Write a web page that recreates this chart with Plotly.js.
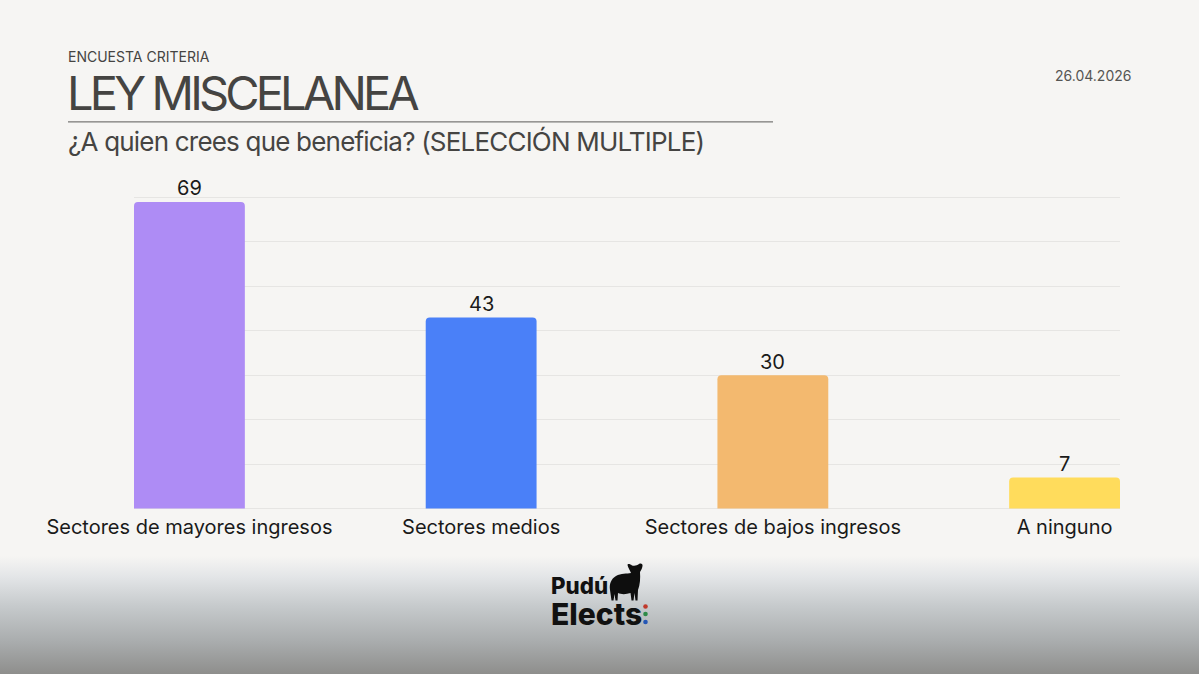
<!DOCTYPE html>
<html><head><meta charset="utf-8">
<script src="https://cdn.plot.ly/plotly-3.0.1.min.js"></script>
<style>
html,body{margin:0;padding:0;width:1199px;height:674px;overflow:hidden;
background:linear-gradient(to bottom,#f6f5f3 0,#f6f5f3 556px,#e4e6e8 576px,#c6cacc 606px,#a9acad 642px,#8e8e8c 674px);}
#c{position:absolute;left:0;top:0;width:1199px;height:674px;}
</style></head><body><div id="c"></div>
<script>
const categories = ["Sectores de mayores ingresos","Sectores medios","Sectores de bajos ingresos","A ninguno"];
const values = [69,43,30,7];
const barColors = ["#ae8cf5","#4a80f8","#f3b96f","#ffdc5c"];
const gridTicks = [0,10,20,30,40,50,60,70];
const W=1199,H=674;
const mL=134,mR=79,mT=192.6,mB=161.4;
const px=x=>(x-mL)/(W-mL-mR), py=y=>1-(y-mT)/(H-mT-mB);
function txt(text,x,y,size,color,anchor,spacing,weight){
  return {text,xref:'paper',yref:'paper',x:px(x),y:py(y),xanchor:anchor||'left',yanchor:'middle',showarrow:false,align:'left',
    font:{size,color,family:'Inter',weight:weight||400},_sp:spacing||0};
}
const sheep="M 610 590 C 609 584 611 579 616 576 C 621 573 627 574 631 573 C 630 570 628 568 627.5 565 C 627.5 563.5 630 563.5 632 565.5 C 635 566 637 565.5 639 564 C 641 563 643 564 642.5 566 C 642 569 641 570 640 572 C 640.5 578 640 585 638 590 L 637.5 600.5 L 635.5 600.5 L 634.5 593 L 633.5 600.5 L 631.5 600.5 L 630.5 593 C 626 594.5 621 594.5 618 593 L 617.5 600.5 L 615.5 600.5 L 614.5 594 L 613.5 600.5 L 611.5 600.5 Z";
const header=[
  txt('ENCUESTA CRITERIA',66,56.5,14,'#454442'),
  txt('LEY MISCELANEA',65,92.5,47,'#454442','left',-3.85),
  txt('¿A quien crees que beneficia? (SELECCIÓN MULTIPLE)',66,141.5,26,'#454442','left',-0.8),
  txt('26.04.2026',1133,75.5,14,'#555553','right'),
  txt('<span style="font-size:22.3px">Pudú</span><br><span style="font-size:30px">Elects</span>',549,601.5,24,'#111111','left',0,800)
];
const spacings=header.map(a=>a._sp); header.forEach(a=>delete a._sp);
const valueLabels=values.map((v,i)=>({text:String(v),xref:'x',yref:'y',x:i,y:v,xanchor:'center',yanchor:'bottom',yshift:-0.5,showarrow:false,
  font:{family:'Inter',size:20,color:'#1a1a1a'}}));
const data=[{type:'bar',x:[0,1,2,3],y:values,width:0.38,
  marker:{color:barColors,line:{width:0}},hoverinfo:'skip'}];
const layout={width:W,height:H,autosize:false,showlegend:false,
  paper_bgcolor:'rgba(0,0,0,0)',plot_bgcolor:'rgba(0,0,0,0)',
  margin:{l:mL,r:mR,t:mT,b:mB,pad:0},barcornerradius:4,
  font:{family:'Inter'},
  xaxis:{range:[-0.19,3.19],tickmode:'array',tickvals:[0,1,2,3],ticktext:categories,ticks:'',
    tickfont:{family:'Inter',size:20,color:'#1a1a1a'},showgrid:false,zeroline:false,showline:false,automargin:false},
  yaxis:{range:[-1,71],tickmode:'array',tickvals:gridTicks,showticklabels:false,ticks:'',
    gridcolor:'#e6e5e3',gridwidth:1,zeroline:false,showline:false},
  shapes:[
    {type:'line',xref:'paper',yref:'paper',x0:px(68),x1:px(773),y0:py(121.5),y1:py(121.5),line:{color:'#5a5a58',width:1}}
  ],
  annotations:header.concat(valueLabels)};
Plotly.newPlot('c',data,layout,{staticPlot:true,displayModeBar:false}).then(()=>{
  const ns='http://www.w3.org/2000/svg';
  const all=document.querySelectorAll('#c svg.main-svg');
  const host=all[all.length-1];
  document.querySelectorAll('#c .annotation-text').forEach((t,i)=>{
    if(spacings[i]) t.style.letterSpacing=spacings[i]+'px';
  });
  const p=document.createElementNS(ns,'path');p.setAttribute('d',sheep);p.setAttribute('fill','#0e0e0e');host.appendChild(p);
  [[645.5,606.5,'#c0392b'],[645.5,614,'#2e8b47'],[645.5,622,'#2456b5']].forEach(d=>{
    const c=document.createElementNS(ns,'circle');c.setAttribute('cx',d[0]);c.setAttribute('cy',d[1]);c.setAttribute('r',2.3);c.setAttribute('fill',d[2]);host.appendChild(c);
  });
});
</script></body></html>
